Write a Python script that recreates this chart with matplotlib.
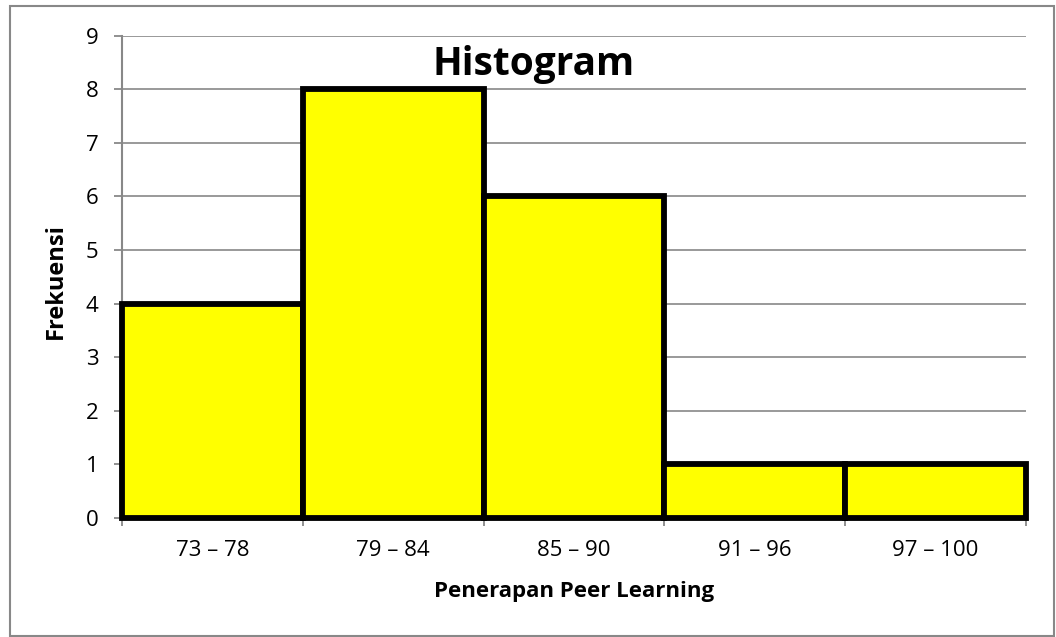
import matplotlib.pyplot as plt
import matplotlib.patches as patches
import numpy as np

plt.rcParams['font.family'] = ['Open Sans', 'DejaVu Sans']

kelas = ['73 – 78', '79 – 84', '85 – 90', '91 – 96', '97 – 100']
frekuensi = [4, 8, 6, 1, 1]

fig = plt.figure(figsize=(10.56, 6.37), dpi=100)
ax = fig.add_axes([122 / 1056, 1 - 518 / 637, 904 / 1056, 482.5 / 637])

# outer chart border
fig.patches.append(patches.Rectangle((10 / 1056, 1 / 637), 1044 / 1056, 630 / 637,
                                     transform=fig.transFigure, fill=False,
                                     edgecolor='#888888', linewidth=1.5))

pos = np.arange(len(kelas))
ax.bar(pos, frekuensi, width=1.0, align='edge', color='#FFFF00',
       edgecolor='black', linewidth=4.2, clip_on=False, zorder=3)

ax.set_xlim(0, len(kelas))
ax.set_ylim(0, 9)
ax.set_yticks(range(10))
ax.yaxis.grid(True, color='#888888', linewidth=1.2)
ax.set_axisbelow(True)

ax.set_xticks(range(len(kelas) + 1))
ax.set_xticklabels([])
ax.set_xticks(pos + 0.5, minor=True)
ax.set_xticklabels(kelas, minor=True)
ax.tick_params(axis='x', which='minor', length=0, pad=16, labelsize=16)
ax.tick_params(axis='x', which='major', length=6, width=1.3, color='#888888')
ax.tick_params(axis='y', length=6, width=1.3, color='#888888', labelsize=16, pad=11)

for s in ['top', 'right']:
    ax.spines[s].set_visible(False)
for s in ['left', 'bottom']:
    ax.spines[s].set_color('#888888')
    ax.spines[s].set_linewidth(1.5)

ax.text(0.455, 0.94, 'Histogram', transform=ax.transAxes, ha='center', va='center',
        fontsize=28, fontweight='bold', zorder=5)
ax.set_xlabel('Penerapan Peer Learning', fontsize=16, fontweight='bold')
ax.set_ylabel('Frekuensi', fontsize=17, fontweight='bold')
ax.xaxis.set_label_coords(0.5, -0.131)
ax.yaxis.set_label_coords(-0.06, 0.491)

fig.savefig('out.png', dpi=100)
